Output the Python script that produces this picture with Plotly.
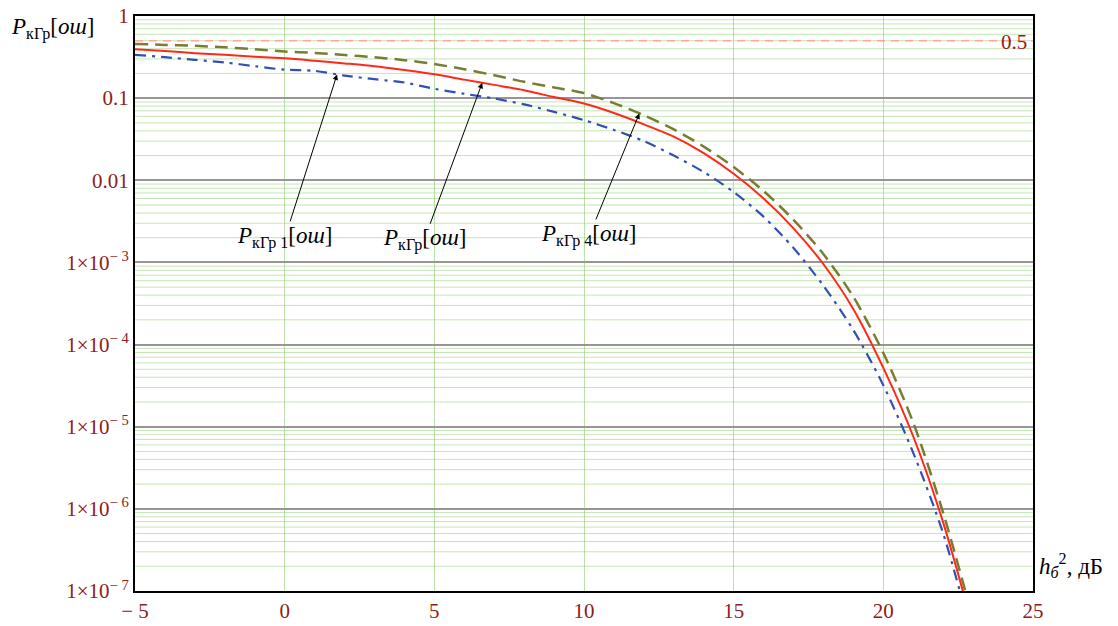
import numpy as np
import plotly.graph_objects as go

# ---- data ----
h2_db = [-5, -4, -3, -2, -1, 0, 1, 2, 3, 4, 5, 6, 7, 8, 9, 10, 11, 12, 13, 14,
         15, 16, 17, 18, 19, 20, 21, 22, 23]

p_kgr = [0.395, 0.375, 0.353, 0.338, 0.32, 0.305, 0.285, 0.265, 0.245, 0.22,
         0.195, 0.168, 0.145, 0.125, 0.103, 0.086, 0.066, 0.048, 0.034, 0.0214,
         0.012, 0.006, 0.0026, 9.5e-4, 2.7e-4, 5.2e-5, 7.6e-6, 6.8e-7, 3.5e-8]

p_kgr1 = [0.337, 0.315, 0.293, 0.272, 0.245, 0.222, 0.215, 0.188, 0.17, 0.155,
          0.13, 0.113, 0.099, 0.084, 0.068, 0.054, 0.041, 0.030, 0.020, 0.0126,
          0.0072, 0.0036, 0.0015, 5.2e-4, 1.5e-4, 3.2e-5, 4.8e-6, 5.0e-7, 2.5e-8]

p_kgr4 = [0.457, 0.445, 0.433, 0.415, 0.395, 0.37, 0.355, 0.335, 0.315, 0.29,
          0.26, 0.225, 0.19, 0.158, 0.135, 0.115, 0.087, 0.062, 0.0417, 0.0257,
          0.0145, 0.0074, 0.0033, 1.26e-3, 3.8e-4, 7.9e-5, 1.12e-5, 8.9e-7, 4.5e-8]

ref_level = 0.5

x_ticks = [-5, 0, 5, 10, 15, 20, 25]
x_tick_text = ["\u2212 5", "0", "5", "10", "15", "20", "25"]
y_ticks = [1, 0.1, 0.01, 1e-3, 1e-4, 1e-5, 1e-6, 1e-7]
y_tick_text = ["1", "0.1", "0.01",
               "1\u00d710<sup>\u2212 3</sup>", "1\u00d710<sup>\u2212 4</sup>",
               "1\u00d710<sup>\u2212 5</sup>", "1\u00d710<sup>\u2212 6</sup>",
               "1\u00d710<sup>\u2212 7</sup>"]

# label annotations: (text, arrow target x, series, ax, ay)
labels = [
    ("<i>P</i><sub>\u043a\u0413\u0440 1</sub>[<i>\u043e\u0448</i>]", 1.75, p_kgr1, -52, 163),
    ("<i>P</i><sub>\u043a\u0413\u0440</sub>[<i>\u043e\u0448</i>]", 6.6, p_kgr, -58, 157),
    ("<i>P</i><sub>\u043a\u0413\u0440 4</sub>[<i>\u043e\u0448</i>]", 11.85, p_kgr4, -50, 122),
]

FONT = "Liberation Serif, Times New Roman, serif"
TICK_COLOR = "rgb(140,32,32)"
MINOR_GREEN = "rgba(140,205,110,0.5)"

fig = go.Figure()

fig.add_trace(go.Scatter(x=h2_db, y=p_kgr4, mode="lines", name="P4", line_shape="spline",
                         line=dict(color="rgb(120,125,50)", width=2.5, dash="13px,7px",
                                   smoothing=0.8)))
fig.add_trace(go.Scatter(x=h2_db, y=p_kgr, mode="lines", name="P", line_shape="spline",
                         line=dict(color="rgb(255,40,25)", width=2, smoothing=0.8)))
fig.add_trace(go.Scatter(x=h2_db, y=p_kgr1, mode="lines", name="P1", line_shape="spline",
                         line=dict(color="rgb(50,80,180)", width=2.2, smoothing=0.8,
                                   dash="11px,6px,3px,6px")))

shapes = []
# minor log gridlines (2..9 per decade)
for dec in range(-7, 0):
    for m in range(2, 10):
        shapes.append(dict(type="line", xref="paper", x0=0, x1=1, yref="y",
                           y0=m * 10.0 ** dec, y1=m * 10.0 ** dec,
                           line=dict(color=MINOR_GREEN, width=1), layer="below"))
# reference 0.5 line
shapes.append(dict(type="line", xref="paper", x0=0, x1=1, yref="y",
                   y0=ref_level, y1=ref_level,
                   line=dict(color="rgb(255,170,150)", width=1.5, dash="8px,6px"),
                   layer="below"))

annotations = []
for text, xt, series, ax, ay in labels:
    yt = 10 ** np.interp(xt, h2_db, np.log10(series))
    annotations.append(dict(x=xt, y=np.log10(yt), xref="x", yref="y", text=text,
                            showarrow=True, arrowhead=2, arrowsize=1.1, arrowwidth=1,
                            arrowcolor="black", ax=ax, ay=ay,
                            font=dict(family=FONT, size=23, color="black")))

annotations.append(dict(x=1.0, y=np.log10(ref_level), xref="paper", yref="y",
                        text="0.5", showarrow=False, xanchor="right", yanchor="middle",
                        xshift=-4, yshift=-1,
                        font=dict(family=FONT, size=21, color=TICK_COLOR)))
annotations.append(dict(x=-0.14, y=1.0, xref="paper", yref="paper",
                        text="<i>P</i><sub>\u043a\u0413\u0440</sub>[<i>\u043e\u0448</i>]",
                        showarrow=False, xanchor="left", yanchor="middle", yshift=-12,
                        font=dict(family=FONT, size=23, color="black")))
annotations.append(dict(x=1.0, y=0.0, xref="paper", yref="paper",
                        text="<i>h</i><sub><i>\u0431</i></sub><sup>2</sup>, \u0434\u0411",
                        showarrow=False, xanchor="left", yanchor="middle",
                        xshift=4, yshift=26,
                        font=dict(family=FONT, size=23, color="black")))

# the page body adds an 8px margin, so the figure is sized 8px smaller
fig.update_layout(
    width=1110, height=618,
    margin=dict(l=127, r=85, t=8, b=35, autoexpand=False),
    paper_bgcolor="white", plot_bgcolor="white",
    showlegend=False,
    shapes=shapes,
    annotations=annotations,
    xaxis=dict(range=[-5, 25], tickvals=x_ticks, ticktext=x_tick_text,
               automargin=False, ticklabeloverflow="allow",
               showgrid=True, gridcolor="rgba(140,205,110,0.6)", gridwidth=1,
               zeroline=False, showline=True, linecolor="black", linewidth=2,
               mirror=True, ticks="",
               tickfont=dict(family=FONT, size=21, color=TICK_COLOR)),
    yaxis=dict(type="log", range=[-7, 0], tickvals=y_ticks, ticktext=y_tick_text,
               automargin=False, ticklabeloverflow="allow",
               showgrid=True, gridcolor="rgb(150,150,150)", gridwidth=1.5,
               zeroline=False, showline=True, linecolor="black", linewidth=2,
               mirror=True, ticks="",
               tickfont=dict(family=FONT, size=21, color=TICK_COLOR)),
)

fig.write_html("out.html")
